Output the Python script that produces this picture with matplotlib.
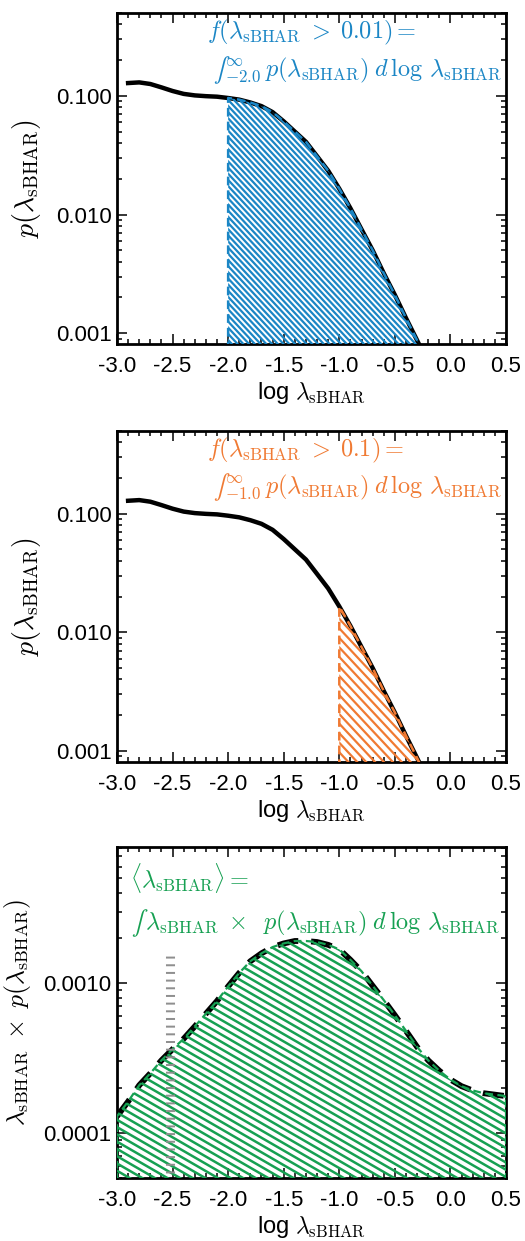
import numpy as np
import matplotlib
matplotlib.use("Agg")
import matplotlib.pyplot as plt
from matplotlib.collections import LineCollection
from matplotlib.ticker import MultipleLocator, LogLocator, FormatStrFormatter, NullFormatter

# p(lambda_sBHAR)
log_lam = [-2.92, -2.8, -2.7, -2.6, -2.5, -2.4, -2.3, -2.2, -2.1, -2.0,
           -1.9, -1.8, -1.7, -1.6, -1.5, -1.4, -1.3, -1.2, -1.1, -1.0,
           -0.9, -0.8, -0.7, -0.6, -0.5, -0.4, -0.3, -0.2]
p_lam = [0.128, 0.130, 0.126, 0.118, 0.110, 0.104, 0.101, 0.0995, 0.0985, 0.096,
         0.093, 0.088, 0.082, 0.073, 0.061, 0.050, 0.041, 0.031, 0.0234, 0.0165,
         0.0113, 0.0075, 0.0050, 0.0032, 0.0021, 0.00134, 0.00087, 0.00056]

# lambda * p(lambda)
log_lam_w = [-3.0, -2.9, -2.8, -2.7, -2.6, -2.5, -2.4, -2.3, -2.2, -2.1,
             -2.0, -1.9, -1.8, -1.7, -1.6, -1.5, -1.4, -1.3, -1.2, -1.1,
             -1.0, -0.9, -0.8, -0.7, -0.6, -0.5, -0.4, -0.3, -0.2, -0.1,
             0.0, 0.1, 0.2, 0.3, 0.4, 0.5]
lam_p = [1.29e-4, 1.62e-4, 2.08e-4, 2.50e-4, 3.05e-4, 3.62e-4, 4.25e-4, 5.14e-4, 6.25e-4, 7.6e-4,
         9.5e-4, 1.17e-3, 1.40e-3, 1.58e-3, 1.74e-3, 1.84e-3, 1.91e-3, 1.91e-3, 1.88e-3, 1.80e-3,
         1.68e-3, 1.43e-3, 1.20e-3, 9.6e-4, 7.7e-4, 6.1e-4, 4.8e-4, 3.75e-4, 3.05e-4, 2.60e-4,
         2.27e-4, 2.05e-4, 1.92e-4, 1.84e-4, 1.80e-4, 1.76e-4]

cuts = [-2.0, -1.0]
cut_text = ["0.01", "0.1"]
cut_colors = ["#1b86c5", "#f07a33"]
green = "#16a052"
mean_x = -2.52
mean_top = 1.63e-3

plt.rcParams['font.family'] = ['Liberation Sans', 'DejaVu Sans']
plt.rcParams['mathtext.fontset'] = 'cm'

fig = plt.figure(figsize=(5.25, 12.41), dpi=100)
W, H = 525, 1241
ax_left, ax_w, ax_h = 117 / W, 389 / W, 331 / H
tops = [13, 430.7, 847]
axes = [fig.add_axes([ax_left, 1 - (t + 331) / H, ax_w, ax_h]) for t in tops]


def hatch(ax, poly, color, step, angle, lw=1.4):
    # diagonal lines in pixel space, clipped to the filled polygon
    bw, bh = ax.bbox.width, ax.bbox.height
    th = np.radians(angle)
    n = np.array([np.sin(th), np.cos(th)])
    d = np.array([np.cos(th), -np.sin(th)])
    L = bw + bh
    segs = []
    for c in np.arange(0, bw * n[0] + bh * n[1] + step, step):
        p0 = c * n
        a, b = p0 - L * d, p0 + L * d
        segs.append([(a[0] / bw, a[1] / bh), (b[0] / bw, b[1] / bh)])
    lc = LineCollection(segs, colors=color, linewidths=lw, transform=ax.transAxes, zorder=3)
    ax.add_collection(lc)
    lc.set_clip_path(poly.get_paths()[0], ax.transData)


def style(ax, ylab, fmt, ysize=20):
    ax.set_yscale('log')
    ax.set_xlim(-3.0, 0.5)
    ax.xaxis.set_major_locator(MultipleLocator(0.5))
    ax.xaxis.set_minor_locator(MultipleLocator(0.1))
    ax.xaxis.set_major_formatter(FormatStrFormatter('%.1f'))
    ax.yaxis.set_major_locator(LogLocator(base=10))
    ax.yaxis.set_minor_locator(LogLocator(base=10, subs=np.arange(2, 10)))
    ax.yaxis.set_major_formatter(FormatStrFormatter(fmt))
    ax.yaxis.set_minor_formatter(NullFormatter())
    ax.tick_params(which='both', direction='in', top=True, right=True, width=1.1, labelsize=16)
    ax.tick_params(which='major', length=7)
    ax.tick_params(which='minor', length=3.5)
    ax.tick_params(axis='x', pad=9)
    ax.tick_params(axis='y', pad=4)
    for s in ax.spines.values():
        s.set_linewidth(2)
    ax.set_xlabel(r'log $\lambda_{\rm sBHAR}$', fontsize=17, labelpad=2)
    ax.set_ylabel(ylab, fontsize=ysize)


# top two panels: fraction above a cut
for ax, cut, txt, col in zip(axes[:2], cuts, cut_text, cut_colors):
    style(ax, r'$p(\lambda_{\rm sBHAR})$', '%.3f')
    ax.set_ylim(8.1e-4, 0.5)
    ax.plot(log_lam, p_lam, color='black', lw=3.2, zorder=2, solid_capstyle='butt')
    x = np.array(log_lam)
    m = x >= cut
    xs = np.concatenate([[cut], x[m]])
    ys = np.concatenate([[np.interp(cut, log_lam, p_lam)], np.array(p_lam)[m]])
    poly = ax.fill_between(xs, ys, 1e-5, facecolor='none', edgecolor=col,
                           linestyle=(0, (3.5, 2)), lw=1.8, zorder=3)
    hatch(ax, poly, col, 4.2 if cut < -1.5 else 6.5, 47, lw=1.6)
    ax.text(0.231, 0.94, r'$f(\lambda_{\rm sBHAR}\; > \;%s) =$' % txt, transform=ax.transAxes,
            color=col, fontsize=17.5, ha='left', va='center')
    ax.text(0.99, 0.828, r'$∫_{%.1f}^{\infty}\, p(\lambda_{\rm sBHAR})\;d\,\log\,\lambda_{\rm sBHAR}$' % cut,
            transform=ax.transAxes, color=col, fontsize=17.5, ha='right', va='center')
    ax.yaxis.set_label_coords(-0.19, 0.5)

# bottom panel: mean accretion rate integrand
ax = axes[2]
style(ax, r'$\lambda_{\rm sBHAR}\;\times\;p(\lambda_{\rm sBHAR})$', '%.4f', ysize=18.5)
ax.set_ylim(5.0e-5, 8.1e-3)
ax.plot(log_lam_w, lam_p, color='black', lw=4.2, linestyle=(0, (3.6, 2.2)), zorder=2)
poly = ax.fill_between(log_lam_w, lam_p, 1e-6, facecolor='none', edgecolor=green,
                       linestyle=(0, (3.5, 2)), lw=1.6, zorder=3)
hatch(ax, poly, green, 6.3, 30, lw=1.8)
ax.plot([mean_x, mean_x], [1e-6, mean_top], color='#8f8f8f', lw=6.5,
        linestyle=(0, (0.22, 0.63)), zorder=4)
ax.text(0.033, 0.906, r'$\langle\lambda_{\rm sBHAR}\rangle =$', transform=ax.transAxes,
        color=green, fontsize=17.5, ha='left', va='center')
ax.text(0.985, 0.77, r'$∫\,\lambda_{\rm sBHAR}\;\times\;\;p(\lambda_{\rm sBHAR})\;d\,\log\,\lambda_{\rm sBHAR}$',
        transform=ax.transAxes, color=green, fontsize=17.5, ha='right', va='center')
ax.yaxis.set_label_coords(-0.215, 0.5)

fig.savefig('out.png', dpi=100)
